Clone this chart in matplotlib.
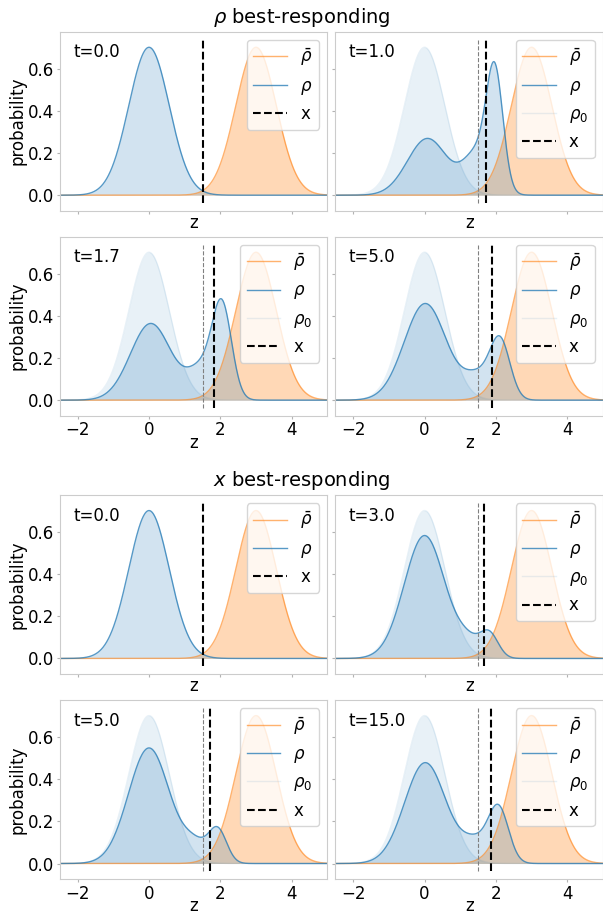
import numpy as np
import matplotlib
matplotlib.use("Agg")
import matplotlib.pyplot as plt

# оси и параметры плотностей
z_min, z_max = -2.5, 5.0

# rho_0 и rho_bar: одиночные пики (центр, высота, ширина)
rho0_peak = (0.0, 0.704, 0.567)
rhobar_peak = (3.0, 0.704, 0.567)

# верхний блок: rho best-responding
rho_times = ["t=0.0", "t=1.0", "t=1.7", "t=5.0"]
rho_x = [1.5, 1.72, 1.81, 1.90]
rho_centers = [[0.0], [0.08, 1.5, 1.97], [0.05, 1.5, 2.05], [0.02, 1.5, 2.12]]
rho_heights = [[0.704], [0.27, 0.2, 0.53], [0.365, 0.15, 0.42], [0.46, 0.11, 0.27]]
rho_widths = [[0.567], [0.56, 0.4, 0.23], [0.57, 0.4, 0.27], [0.59, 0.4, 0.28]]

# нижний блок: x best-responding
x_times = ["t=0.0", "t=3.0", "t=5.0", "t=15.0"]
x_x = [1.5, 1.67, 1.71, 1.87]
x_centers = [[0.0], [0.0, 1.25, 1.82], [0.0, 1.3, 1.93], [0.02, 1.45, 2.08]]
x_heights = [[0.704], [0.585, 0.07, 0.11], [0.55, 0.085, 0.155], [0.48, 0.1, 0.25]]
x_widths = [[0.567], [0.57, 0.35, 0.25], [0.575, 0.35, 0.25], [0.58, 0.4, 0.28]]

x_start = 1.5

z = np.linspace(z_min, z_max, 600)


def density(centers, heights, widths):
    out = np.zeros_like(z)
    for c, h, s in zip(centers, heights, widths):
        out += h * np.exp(-(z - c) ** 2 / (2 * s ** 2))
    return out


rho0 = density([rho0_peak[0]], [rho0_peak[1]], [rho0_peak[2]])
rhobar = density([rhobar_peak[0]], [rhobar_peak[1]], [rhobar_peak[2]])

plt.rcParams["font.size"] = 12
plt.rcParams["axes.edgecolor"] = "0.8"
plt.rcParams["xtick.color"] = "0.7"
plt.rcParams["ytick.color"] = "0.7"
plt.rcParams["xtick.labelcolor"] = "black"
plt.rcParams["ytick.labelcolor"] = "black"
plt.rcParams["xtick.major.size"] = 2.5
plt.rcParams["ytick.major.size"] = 2.5
plt.rcParams["xtick.major.pad"] = 1.5
plt.rcParams["ytick.major.pad"] = 1.5

fig = plt.figure(figsize=(6.03, 9.15), dpi=100)

lefts = [0.0992, 0.5562]
width = 0.4438
height = 0.1956
bottoms = [0.7697, 0.5457, 0.2634, 0.0393]

groups = [
    (r"$\rho$ best-responding", 0.9814, bottoms[:2], rho_times, rho_x, rho_centers, rho_heights, rho_widths),
    (r"$x$ best-responding", 0.4754, bottoms[2:], x_times, x_x, x_centers, x_heights, x_widths),
]

for title, ty, bots, times, xs, cs, hs, ws in groups:
    fig.text(0.5, ty, title, ha="center", va="center", fontsize=14)
    first = None
    for i in range(4):
        r, c = divmod(i, 2)
        if first is None:
            ax = fig.add_axes([lefts[c], bots[r], width, height])
            first = ax
        else:
            ax = fig.add_axes([lefts[c], bots[r], width, height], sharex=first, sharey=first)
        rho = density(cs[i], hs[i], ws[i])

        ax.plot(z, rhobar, color="C1", alpha=0.6, lw=1, label=r"$\bar{\rho}$")
        ax.fill_between(z, rhobar, color="C1", alpha=0.3, lw=0)
        ax.plot(z, rho, color="C0", alpha=0.75, lw=1, label=r"$\rho$")
        ax.fill_between(z, rho, color="C0", alpha=0.2, lw=0)
        if i > 0:
            ax.plot(z, rho0, color="C0", alpha=0.1, lw=1, label=r"$\rho_0$")
            ax.fill_between(z, rho0, color="C0", alpha=0.1, lw=0)

        # вертикальные линии на высоту автоматических пределов по данным
        top = max(rhobar.max(), rho.max(), rho0.max())
        ylo, yhi = -0.05 * top, 1.05 * top
        if i > 0:
            ax.plot([x_start, x_start], [ylo, yhi], color="grey", ls="--", lw=0.8)
        ax.plot([xs[i], xs[i]], [ylo, yhi], color="black", ls="--", lw=1.5, label="x")

        ax.set_xlim(z_min, z_max)
        ax.text(0.05, 0.885, times[i], transform=ax.transAxes, va="center", fontsize=12)
        ax.legend(loc="upper right", fontsize=12)
        ax.set_xlabel("z", labelpad=0 if r == 0 else -4)
        ax.set_xticks([-2, 0, 2, 4])
        ax.set_yticks([0.0, 0.2, 0.4, 0.6])
        if r == 0:
            ax.tick_params(labelbottom=False)
        if c == 0:
            ax.set_ylabel("probability", labelpad=1)
        else:
            ax.tick_params(labelleft=False)

plt.savefig("out.png", dpi=100)
